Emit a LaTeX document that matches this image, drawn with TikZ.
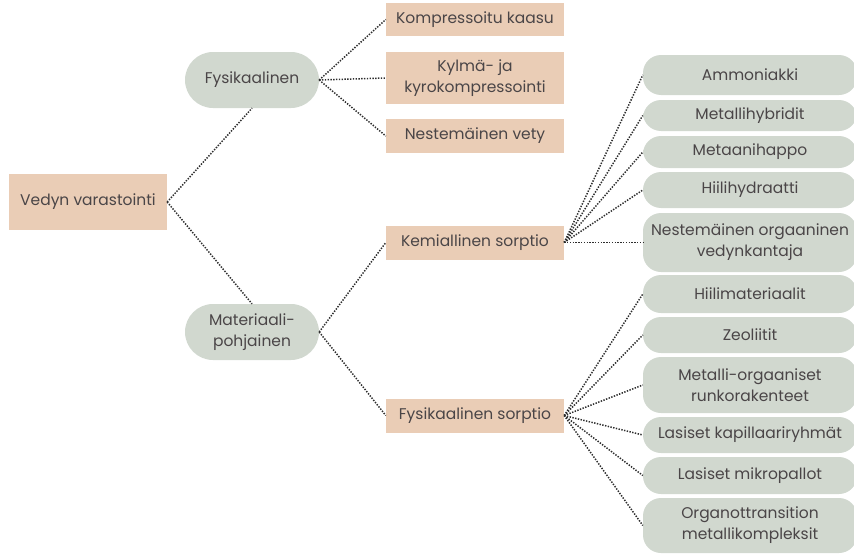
\documentclass[tikz,border=0pt]{standalone}
\usepackage{fontspec}
\setmainfont{Poppins}
\begin{document}
\definecolor{tanfill}{HTML}{EACDB6}
\definecolor{sagefill}{HTML}{D1D8CF}
\definecolor{inktext}{HTML}{4A4547}
\definecolor{linkcol}{HTML}{2E2E2E}
\begin{tikzpicture}[x=1pt,y=-1pt,
  every node/.style={font=\fontsize{15.5}{21}\selectfont, text=inktext, align=center, inner sep=0pt},
  tanbox/.style={fill=tanfill, minimum width=#1},
  tanbox/.default=178pt,
  pill/.style={fill=sagefill, rounded corners=18pt, minimum width=214pt},
  hubpill/.style={fill=sagefill, rounded corners=28pt, minimum width=134pt, minimum height=56pt},
  link/.style={draw=linkcol, line width=1.5pt, dash pattern=on 1.4pt off 1.4pt}
]
\useasboundingbox (0,0) rectangle (854,554);
\begin{scope}
\clip (0,0) rectangle (854,554);

% root
\node[tanbox=158pt, minimum height=56pt] (root) at (88,202) {Vedyn varastointi};

% second level
\node[hubpill] (fys) at (252,80) {Fysikaalinen};
\node[hubpill] (mat) at (252,332) {Materiaali-\\pohjainen};

% physical storage options
\node[tanbox, minimum height=33pt] (komp) at (475,19.5) {Kompressoitu kaasu};
\node[tanbox, minimum height=52pt] (kylma) at (475,78) {Kylmä- ja\\kyrokompressointi};
\node[tanbox, minimum height=34pt] (nest) at (475,136) {Nestemäinen vety};

% sorption groups
\node[tanbox, minimum height=34pt] (kem) at (475,242.5) {Kemiallinen sorptio};
\node[tanbox, minimum height=34pt] (fsorp) at (475,415.5) {Fysikaalinen sorptio};

% chemical sorption carriers
\node[pill, minimum height=40pt] (amm) at (750,75) {Ammoniakki};
\node[pill, minimum height=31pt] (mhyb) at (750,115.5) {Metallihybridit};
\node[pill, minimum height=32pt] (meta) at (750,152) {Metaanihappo};
\node[pill, minimum height=36pt] (hiili) at (750,190) {Hiilihydraatti};
\node[pill, minimum height=59pt] (lohc) at (750,242.5) {Nestemäinen orgaaninen\\vedynkantaja};

% physical sorption materials
\node[pill, minimum height=38pt] (hmat) at (750,294) {Hiilimateriaalit};
\node[pill, minimum height=36pt] (zeo) at (750,335) {Zeoliitit};
\node[pill, minimum height=56pt] (mof) at (750,385) {Metalli-orgaaniset\\runkorakenteet};
\node[pill, minimum height=36pt] (kap) at (750,435) {Lasiset kapillaariryhmät};
\node[pill, minimum height=37pt] (mikro) at (750,475.5) {Lasiset mikropallot};
\node[pill, minimum height=55pt] (orgmet) at (750,525.5) {Organottransition\\metallikompleksit};

% connectors
\draw[link] (root.east) -- (fys.south);
\draw[link] (root.east) -- (mat.north);
\foreach \t in {komp,kylma,nest}
  \draw[link] (fys.east) -- (\t.west);
\draw[link] (mat.east) -- (kem.west);
\draw[link] (mat.east) -- (fsorp.west);
\foreach \t in {amm,mhyb,meta,hiili,lohc}
  \draw[link] (kem.east) -- (\t.west);
\foreach \t in {hmat,zeo,mof,kap,mikro,orgmet}
  \draw[link] (fsorp.east) -- (\t.west);
\end{scope}
\end{tikzpicture}
\end{document}
